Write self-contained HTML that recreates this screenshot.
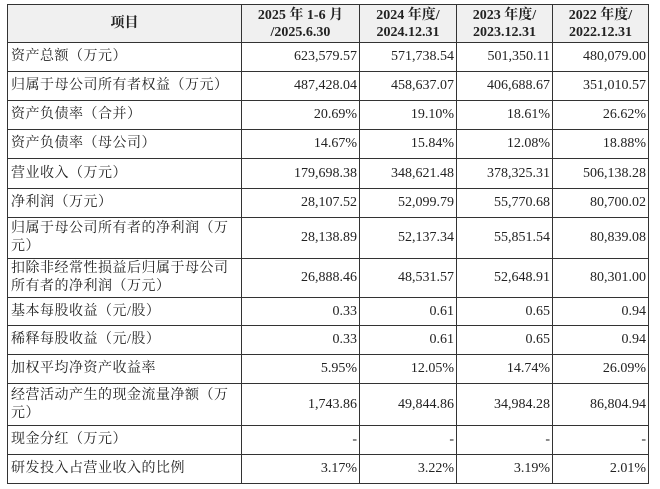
<!DOCTYPE html>
<html><head><meta charset="utf-8"><style>
body{margin:0;background:#fff;width:660px;height:489px;overflow:hidden}
table{position:absolute;left:7px;top:4px;border-collapse:collapse;table-layout:fixed;font-family:"Liberation Serif","Noto Serif CJK SC",serif;font-size:14px;color:#222}
td{border:1px solid #333;padding:0 3px;line-height:18px;overflow:hidden;white-space:nowrap}
td.l{text-align:left;letter-spacing:0.5px;white-space:normal;word-break:break-all}
td.n{text-align:right;padding-right:2px}
tr.h td{background:#f0f0f0;font-weight:bold;text-align:center;font-size:14px;line-height:17px}
</style></head><body>
<table>
<colgroup><col style="width:234px"><col style="width:118px"><col style="width:97px"><col style="width:96px"><col style="width:96px"></colgroup>
<tr class="h" style="height:38px"><td>项目</td><td>2025 年 1-6 月<br>/2025.6.30</td><td>2024 年度/<br>2024.12.31</td><td>2023 年度/<br>2023.12.31</td><td>2022 年度/<br>2022.12.31</td></tr>
<tr style="height:29px"><td class="l">资产总额（万元）</td><td class="n">623,579.57</td><td class="n">571,738.54</td><td class="n">501,350.11</td><td class="n">480,079.00</td></tr>
<tr style="height:29px"><td class="l">归属于母公司所有者权益（万元）</td><td class="n">487,428.04</td><td class="n">458,637.07</td><td class="n">406,688.67</td><td class="n">351,010.57</td></tr>
<tr style="height:29px"><td class="l">资产负债率（合并）</td><td class="n">20.69%</td><td class="n">19.10%</td><td class="n">18.61%</td><td class="n">26.62%</td></tr>
<tr style="height:29px"><td class="l">资产负债率（母公司）</td><td class="n">14.67%</td><td class="n">15.84%</td><td class="n">12.08%</td><td class="n">18.88%</td></tr>
<tr style="height:30px"><td class="l">营业收入（万元）</td><td class="n">179,698.38</td><td class="n">348,621.48</td><td class="n">378,325.31</td><td class="n">506,138.28</td></tr>
<tr style="height:29px"><td class="l">净利润（万元）</td><td class="n">28,107.52</td><td class="n">52,099.79</td><td class="n">55,770.68</td><td class="n">80,700.02</td></tr>
<tr style="height:41px"><td class="l">归属于母公司所有者的净利润（万元）</td><td class="n">28,138.89</td><td class="n">52,137.34</td><td class="n">55,851.54</td><td class="n">80,839.08</td></tr>
<tr style="height:39px"><td class="l">扣除非经常性损益后归属于母公司所有者的净利润（万元）</td><td class="n">26,888.46</td><td class="n">48,531.57</td><td class="n">52,648.91</td><td class="n">80,301.00</td></tr>
<tr style="height:28px"><td class="l">基本每股收益（元/股）</td><td class="n">0.33</td><td class="n">0.61</td><td class="n">0.65</td><td class="n">0.94</td></tr>
<tr style="height:29px"><td class="l">稀释每股收益（元/股）</td><td class="n">0.33</td><td class="n">0.61</td><td class="n">0.65</td><td class="n">0.94</td></tr>
<tr style="height:29px"><td class="l">加权平均净资产收益率</td><td class="n">5.95%</td><td class="n">12.05%</td><td class="n">14.74%</td><td class="n">26.09%</td></tr>
<tr style="height:42px"><td class="l">经营活动产生的现金流量净额（万元）</td><td class="n">1,743.86</td><td class="n">49,844.86</td><td class="n">34,984.28</td><td class="n">86,804.94</td></tr>
<tr style="height:29px"><td class="l">现金分红（万元）</td><td class="n">-</td><td class="n">-</td><td class="n">-</td><td class="n">-</td></tr>
<tr style="height:29px"><td class="l">研发投入占营业收入的比例</td><td class="n">3.17%</td><td class="n">3.22%</td><td class="n">3.19%</td><td class="n">2.01%</td></tr>
</table>
</body></html>
